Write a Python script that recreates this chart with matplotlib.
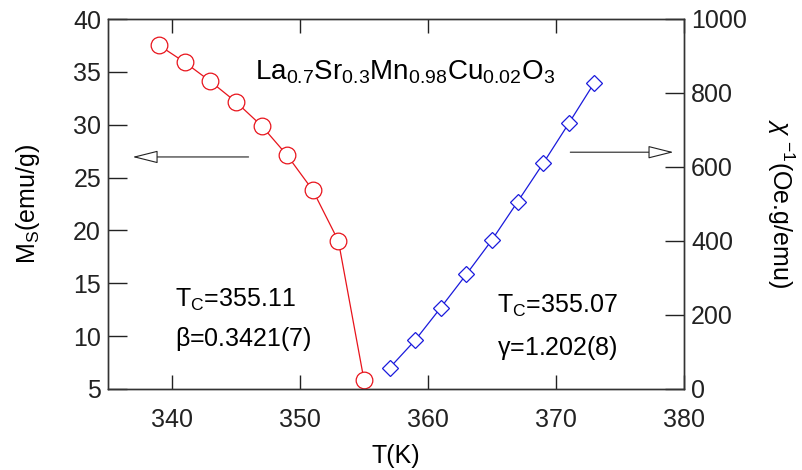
import matplotlib
matplotlib.use("Agg")
import matplotlib.pyplot as plt

plt.rcParams['font.family'] = ['Liberation Sans', 'DejaVu Sans']
plt.rcParams['mathtext.fontset'] = 'custom'
plt.rcParams['mathtext.rm'] = 'Liberation Sans'
plt.rcParams['mathtext.it'] = 'Liberation Sans:italic'
plt.rcParams['mathtext.bf'] = 'Liberation Sans:bold'

T_ms = [339, 341, 343, 345, 347, 349, 351, 353, 355]
Ms = [37.5, 35.9, 34.1, 32.15, 29.9, 27.1, 23.8, 19.0, 5.85]
T_chi = [357, 359, 361, 363, 365, 367, 369, 371, 373]
chi_inv = [57, 132, 220, 310, 403, 506, 610, 718, 828]

fig = plt.figure(figsize=(8.02, 4.70), dpi=100)
ax = fig.add_axes([108/802, 1-389/470, (684-108)/802, (389-19)/470])
ax2 = ax.twinx()

ax.plot(T_ms, Ms, '-', color='#e8141c', lw=0.9, marker='o', ms=12,
        mfc='white', mec='#e8141c', mew=0.9, zorder=3)
ax2.plot(T_chi, chi_inv, '-', color='#1a1adc', lw=0.9, marker='D', ms=8,
         mfc='white', mec='#1a1adc', mew=0.9, zorder=3)

ax.set_xlim(335, 380)
ax.set_ylim(5, 40)
ax2.set_ylim(0, 1000)
ax.set_xticks([340, 350, 360, 370, 380])
ax.set_yticks([5, 10, 15, 20, 25, 30, 35, 40])
ax2.set_yticks([0, 200, 400, 600, 800, 1000])

fs = 18
ax.tick_params(axis='x', direction='in', length=10, width=1, top=True,
               labelsize=fs, pad=14, colors='#222222')
ax.tick_params(axis='y', direction='in', length=14, width=1, right=False,
               labelsize=fs, pad=5, colors='#222222')
ax2.tick_params(axis='y', direction='in', length=14, width=1,
                labelsize=fs, pad=5, colors='#222222')
for a in (ax, ax2):
    for s in a.spines.values():
        s.set_linewidth(1)
        s.set_color('#333333')

ax.set_xlabel('T(K)', fontsize=fs, labelpad=8)
ax.set_ylabel(r'M$_\mathrm{S}$(emu/g)', fontsize=fs, labelpad=22)
ax2.set_ylabel(r'$\mathit{\chi}^{\ \mathrm{-1}}$(Oe.g/emu)', fontsize=fs, rotation=-90,
               labelpad=36)

ax.text(0.255, 0.855,
        r'La$_{\mathrm{0.7}}$Sr$_{\mathrm{0.3}}$Mn$_{\mathrm{0.98}}$Cu$_{\mathrm{0.02}}$O$_{\mathrm{3}}$',
        transform=ax.transAxes, fontsize=20, ha='left', va='center')
ax.text(0.117, 0.24, r'T$_\mathrm{C}$=355.11', transform=ax.transAxes,
        fontsize=fs, ha='left', va='center')
ax.text(0.117, 0.135, r'$\mathrm{\beta}$=0.3421(7)', transform=ax.transAxes,
        fontsize=fs, ha='left', va='center')
ax.text(0.675, 0.225, r'T$_\mathrm{C}$=355.07', transform=ax.transAxes,
        fontsize=fs, ha='left', va='center')
ax.text(0.675, 0.11, r'$\mathrm{\gamma}$=1.202(8)', transform=ax.transAxes,
        fontsize=fs, ha='left', va='center')

arrowprops = dict(arrowstyle='-|>,head_length=1.6,head_width=0.4',
                  lw=0.8, color='#222222', fc='white')
ax.annotate('', xy=(336.7, 26.95), xytext=(346.2, 26.95),
            arrowprops=arrowprops)
ax.annotate('', xy=(379.4, 27.4), xytext=(370.9, 27.4),
            arrowprops=arrowprops)

fig.savefig('out.png', dpi=100)
